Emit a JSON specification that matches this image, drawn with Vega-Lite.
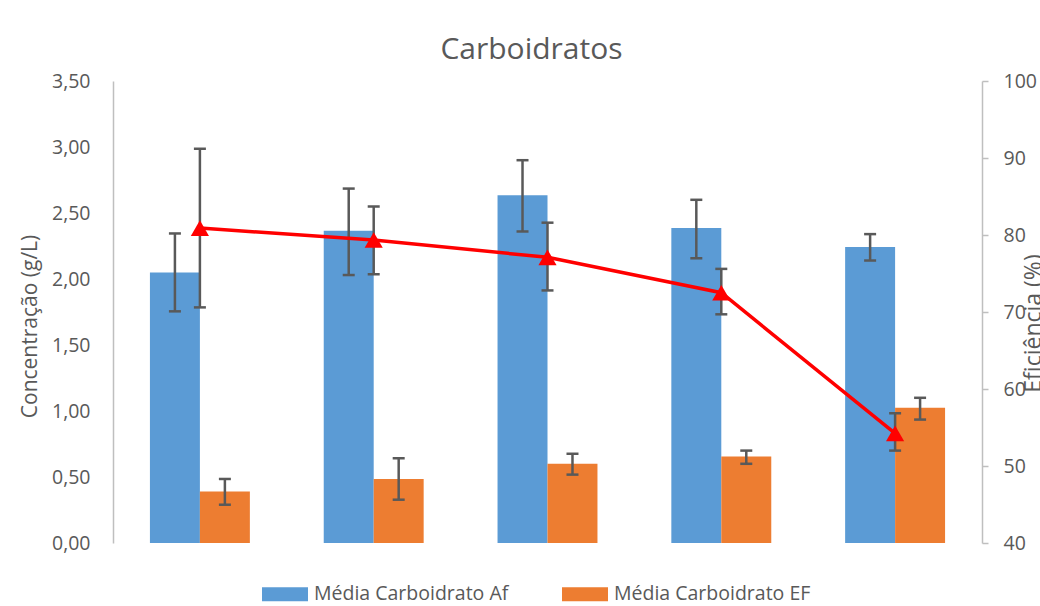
{
  "$schema": "https://vega.github.io/schema/vega-lite/v6.json",
  "width": 869,
  "height": 462,
  "autosize": {"type": "none"},
  "padding": {"left": 113, "top": 81, "right": 58, "bottom": 63},
  "background": "white",
  "config": {
    "font": "Open Sans",
    "view": {"stroke": null},
    "axis": {"labelColor": "#595959", "titleColor": "#595959", "labelFont": "Open Sans", "titleFont": "Open Sans", "grid": false, "domainColor": "#bfbfbf", "tickColor": "#bfbfbf", "domainWidth": 1.5, "tickWidth": 1.5}
  },
  "title": {"text": "Carboidratos", "fontSize": 30, "fontWeight": "normal", "color": "#595959", "font": "Open Sans", "frame": "group", "anchor": "middle", "dx": -16, "dy": 36, "offset": 18, "baseline": "alphabetic"},
  "datasets": {
    "barras": [
      {"grupo": "1", "serie": "Média Carboidrato Af", "media": 2.05, "lo": 1.755, "hi": 2.345},
      {"grupo": "1", "serie": "Média Carboidrato EF", "media": 0.39, "lo": 0.29, "hi": 0.485},
      {"grupo": "2", "serie": "Média Carboidrato Af", "media": 2.365, "lo": 2.03, "hi": 2.685},
      {"grupo": "2", "serie": "Média Carboidrato EF", "media": 0.485, "lo": 0.328, "hi": 0.642},
      {"grupo": "3", "serie": "Média Carboidrato Af", "media": 2.635, "lo": 2.36, "hi": 2.9},
      {"grupo": "3", "serie": "Média Carboidrato EF", "media": 0.6, "lo": 0.518, "hi": 0.676},
      {"grupo": "4", "serie": "Média Carboidrato Af", "media": 2.386, "lo": 2.157, "hi": 2.6},
      {"grupo": "4", "serie": "Média Carboidrato EF", "media": 0.655, "lo": 0.6, "hi": 0.7},
      {"grupo": "5", "serie": "Média Carboidrato Af", "media": 2.243, "lo": 2.14, "hi": 2.34},
      {"grupo": "5", "serie": "Média Carboidrato EF", "media": 1.024, "lo": 0.935, "hi": 1.1}
    ],
    "eficiencia": [
      {"grupo": "1", "ef": 80.9, "lo": 70.6, "hi": 91.2},
      {"grupo": "2", "ef": 79.35, "lo": 74.9, "hi": 83.7},
      {"grupo": "3", "ef": 77.1, "lo": 72.8, "hi": 81.6},
      {"grupo": "4", "ef": 72.5, "lo": 69.7, "hi": 75.6},
      {"grupo": "5", "ef": 54.25, "lo": 52.0, "hi": 56.85}
    ]
  },
  "encoding": {
    "x": {"field": "grupo", "type": "nominal", "axis": null, "scale": {"paddingInner": 0.425, "paddingOuter": 0.2125}}
  },
  "layer": [
    {
      "data": {"name": "barras"},
      "layer": [
        {
          "mark": {"type": "bar"},
          "encoding": {
            "xOffset": {"field": "serie", "type": "nominal", "scale": {"paddingInner": 0, "paddingOuter": 0}},
            "y": {"field": "media", "type": "quantitative", "title": "Concentração (g/L)", "scale": {"domain": [0, 3.5]},
              "axis": {"orient": "left", "values": [0, 0.5, 1, 1.5, 2, 2.5, 3, 3.5], "labelExpr": "replace(format(datum.value, '.2f'), '.', ',')", "ticks": false, "labelPadding": 23, "labelFontSize": 19.5, "titleFontSize": 21, "titleFontWeight": "normal", "titleX": -73, "titleY": 245, "titleAngle": -90, "titleBaseline": "bottom", "titleAlign": "center"}},
            "color": {"field": "serie", "type": "nominal", "scale": {"domain": ["Média Carboidrato Af", "Média Carboidrato EF"], "range": ["#5b9bd5", "#ed7d31"]},
              "legend": {"orient": "none", "legendX": 149, "legendY": 490, "direction": "horizontal", "title": null, "symbolType": "M-1,-0.3H1V0.3H-1Z", "symbolSize": 2116, "symbolStrokeWidth": 0, "symbolOpacity": 1, "labelFontSize": 19.5, "labelColor": "#595959", "labelFont": "Open Sans", "columnPadding": 53, "labelOffset": 6, "labelLimit": 0}}
          }
        },
        {
          "mark": {"type": "rule", "color": "#595959", "strokeWidth": 2.5},
          "encoding": {
            "xOffset": {"field": "serie", "type": "nominal"},
            "y": {"field": "lo", "type": "quantitative", "title": "Concentração (g/L)"},
            "y2": {"field": "hi"}
          }
        },
        {
          "mark": {"type": "tick", "color": "#595959", "thickness": 2.5, "size": 12, "opacity": 1},
          "encoding": {
            "xOffset": {"field": "serie", "type": "nominal"},
            "y": {"field": "lo", "type": "quantitative", "title": "Concentração (g/L)"}
          }
        },
        {
          "mark": {"type": "tick", "color": "#595959", "thickness": 2.5, "size": 12, "opacity": 1},
          "encoding": {
            "xOffset": {"field": "serie", "type": "nominal"},
            "y": {"field": "hi", "type": "quantitative", "title": "Concentração (g/L)"}
          }
        }
      ]
    },
    {
      "data": {"name": "eficiencia"},
      "layer": [
        {
          "mark": {"type": "rule", "color": "#595959", "strokeWidth": 2.5},
          "encoding": {
            "y": {"field": "lo", "type": "quantitative", "title": "Eficiência (%)", "scale": {"domain": [40, 100]},
              "axis": {"orient": "right", "values": [40, 50, 60, 70, 80, 90, 100], "tickSize": 6, "labelPadding": 15, "labelFontSize": 19.5, "titleFontSize": 23, "titleFontWeight": "normal", "titleX": 40, "titleY": 242, "titleAngle": -90, "titleBaseline": "top", "titleAlign": "center"}},
            "y2": {"field": "hi"}
          }
        },
        {
          "mark": {"type": "tick", "color": "#595959", "thickness": 2.5, "size": 12, "opacity": 1},
          "encoding": {"y": {"field": "lo", "type": "quantitative", "title": "Eficiência (%)"}}
        },
        {
          "mark": {"type": "tick", "color": "#595959", "thickness": 2.5, "size": 12, "opacity": 1},
          "encoding": {"y": {"field": "hi", "type": "quantitative", "title": "Eficiência (%)"}}
        },
        {
          "mark": {"type": "line", "color": "#ff0000", "strokeWidth": 3.5},
          "encoding": {"y": {"field": "ef", "type": "quantitative", "title": "Eficiência (%)"}}
        },
        {
          "mark": {"type": "point", "shape": "triangle-up", "filled": true, "color": "#ff0000", "size": 330, "opacity": 1},
          "encoding": {"y": {"field": "ef", "type": "quantitative", "title": "Eficiência (%)"}}
        }
      ]
    }
  ],
  "resolve": {"scale": {"y": "independent"}}
}
